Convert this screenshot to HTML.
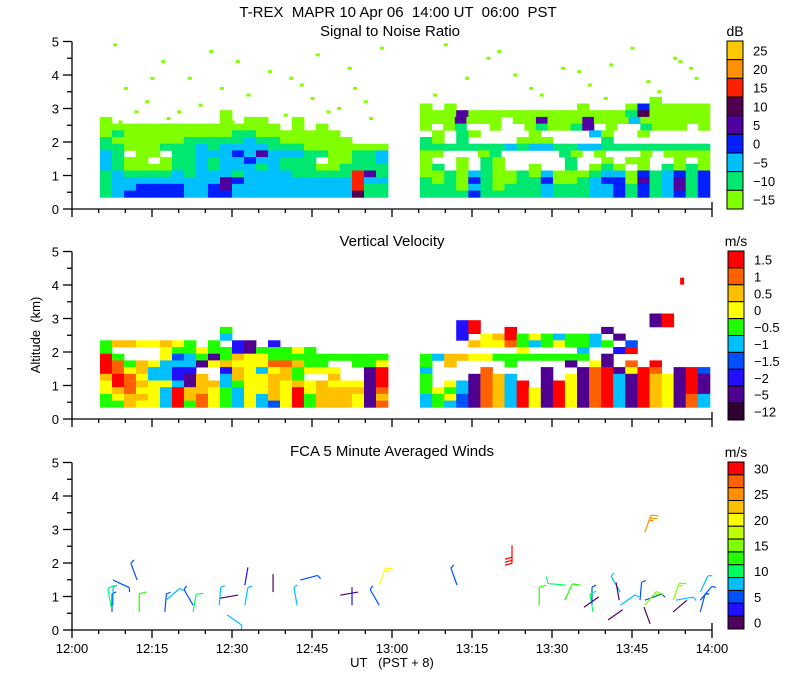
<!DOCTYPE html>
<html><head><meta charset="utf-8"><style>
html,body{margin:0;padding:0;background:#fff;}
svg{display:block;font-family:"Liberation Sans",sans-serif;}
text{white-space:pre;}
</style></head><body>
<svg id="chart" width="800" height="700" viewBox="0 0 800 700" xmlns="http://www.w3.org/2000/svg">
<text x="398" y="17" font-size="15" text-anchor="middle">T-REX  MAPR 10 Apr 06  14:00 UT  06:00  PST</text>
<text x="390" y="36" font-size="15" text-anchor="middle">Signal to Noise Ratio</text>
<text x="392" y="246" font-size="15" text-anchor="middle">Vertical Velocity</text>
<text x="392" y="456" font-size="15" text-anchor="middle">FCA 5 Minute Averaged Winds</text>
<text x="0" y="0" font-size="13" text-anchor="middle" transform="translate(40,335) rotate(-90)">Altitude  (km)</text>
<text x="392" y="667" font-size="13" text-anchor="middle">UT   (PST + 8)</text>
<g id="layer"></g>
</svg>
<script>
// ---- data ----
// SNR colours listed from lowest level (-15) to highest (25)
const snrColors = ["#80ff00","#00e870","#00c0ff","#0020ff","#5000a0","#500050","#ff2000","#ff9000","#ffc800"];
const snrLabels = ["25","20","15","10","5","0","\u22125","\u221210","\u221215"];
const vvColors = ["#300030","#500090","#2010ff","#0050ff","#00c0ff","#20ff00","#ffff00","#ffc000","#ff6000","#ff0000"];
const vvLabels = ["1.5","1","0.5","0","\u22120.5","\u22121","\u22121.5","\u22122","\u22125","\u221212"];
const windColors = ["#500060","#2010ff","#0050ff","#00c0ff","#00ff60","#20ff00","#80ff00","#c0ff00","#ffff00","#ffc000","#ff9000","#ff6000","#ff0000"];
const windLabels = ["30","","25","","20","","15","","10","","5","","0"];
const xTickLabels = ["12:00","12:15","12:30","12:45","13:00","13:15","13:30","13:45","14:00"];
const yTickLabels = ["0","1","2","3","4","5"];

// SNR grid: rows top (3.15 km) to bottom (0.35 km), 0.2 km each
const snrLeftT = [5.25, 59.25];
const snrLeft = [
"........................",
"........................",
"..........0.............",
"0.........0.00..0.......",
"000000000000000.0.0.....",
"01000000000110000000....",
"100000011111211000000...",
"110001112122221110000000",
"21.00.112223242221100112",
"2100.0112122322111.00112",
"210000112122212111001111",
"121111212221222211111641",
"122222222243222222222622",
"122333322342222222222611",
"123333322332222222222511"];
const snrRightT = [65.25, 119.6];
const snrRight = [
"...................0....",
"0.0..........0...0300000",
"000400000000000001500000",
"0004000.00400040002000000",
"0.01..0..010014.0..1000.0",
".0.10....0....20..0.....",
"10.1....000....1........",
"111111121221122111111111",
"00...01.....10.0...0.0000",
"0..0.10.....1..0.00..0.0",
"01.0.10..0..1.010.0.1010",
"001021001020001220312313",
"101031001130012330412413",
"111021011121112231312413",
"111131111121112231312313"];
const speckT = [8,10,14,17,20,22,26,30,33,37,40,43,46,50,53,56,58,12,24,35,45,52,9,18,28,48,15,31,41,55,70,74,78,83,88,92,97,101,105,110,114,117,68,80,95,108,113,116,86,100];
const speckAlt = [4.9,3.6,3.2,4.4,2.9,3.9,4.7,2.6,3.4,4.1,2.8,3.7,4.6,3.0,3.6,2.7,4.8,2.9,3.1,2.5,3.3,4.2,2.6,2.7,3.6,2.9,3.9,4.4,3.9,3.2,4.9,3.9,4.5,4.0,3.4,4.2,3.7,4.3,4.8,3.5,4.4,3.9,3.4,4.7,4.1,3.8,4.5,4.2,3.6,3.3];

// Vertical velocity grid: rows top (2.95 km) to bottom (0.35 km)
const vvLeftT = [5.25, 59.25];
const vvLeft = [
"........................",
"........................",
"..........5.............",
"..........4.............",
"57766765.5.21.2.........",
"5....6556552155565......",
"95...6345157665555555555",
"9857644416766688755..556",
"98674422..2764675666..19",
"798644217.4766775..7..19",
"698766417745667676766619",
"678664977654667696777718",
"567764978654647695777617",
"557664958654643695777618"];
const vvRightT = [65.25, 119.6];
const vvRight = [
"...................19...",
"...29..............19...",
"...29..9.......1........",
"...2.6795654554.1.......",
"....766854565545.3......",
"........6....4..29......",
"54776655555555.1........",
"5.7....5....1.61.8.9....",
"4....8....1..1891698.193",
"5...1874..1.618941976191",
"5.6418749.19618941976191",
"565418749619618941976191",
"456318749619618941976184",
"454318749619618941976184"];
const vvBlobT = [114.4];
const vvBlobAlt = [4.1];
const vvBlobVal = [9];

// Wind barbs
const windT   = [7.5,7.7,7.3,7.7,12.2,12.6,17.4,17.6,22.7,22.7,27.6,27.8,29.1,32.4,32.4,37.7,42.2,42.8,50.3,52.5,57.6,57.6,72.2,82.5,87.6,92.6,92.4,97.5,97.7,96,102.8,102.6,102.8,100.5,106.5,107.4,107.4,108.4,107.4,112.7,113.2,112.7,117.8,117.8,117.8];
const windAlt = [0.54,0.74,0.71,1.49,1.49,0.54,0.54,0.89,0.74,0.54,0.74,0.95,0.45,1.34,0.74,1.13,0.74,1.49,1.04,0.74,0.74,1.34,1.34,2.53,0.74,1.34,0.89,0.74,0.54,0.68,1.13,0.89,0.74,0.3,0.89,0.89,0.74,0.18,2.92,0.89,0.89,0.54,1.13,0.89,0.54];
const windSpd = [5,8,12,5,5,13,5,8,5,12,8,1,8,3,8,1,8,5,1,4,5,22,5,30,13,12,13,5,11,2,8,1,8,1,5,5,17,1,25,17,8,1,8,5,5];
const windDir = [0,0,350,115,340,0,5,50,330,10,5,80,125,10,10,0,350,75,80,0,330,20,340,180,0,275,25,0,350,55,330,350,55,55,5,70,40,340,20,20,80,50,25,40,15];

// ---- geometry ----
const X0=72, X1=712;
const panels=[{y0:209},{y0:419},{y0:630}];
const KM=33.5;
const xS = t => X0 + t*(X1-X0)/120;
const yS = (p,a) => panels[p].y0 - a*KM;
const NS="http://www.w3.org/2000/svg";
const layer=document.getElementById('layer');
function mk(tag, attrs, parent){const e=document.createElementNS(NS,tag);for(const k in attrs)e.setAttribute(k,attrs[k]);(parent||layer).appendChild(e);return e;}

function drawGrid(p, rows, tr, colors, name){
  const g=mk('g',{});
  
  
  const nr=rows.length;
  rows.forEach((row,ri)=>{
    const nc=row.length;
    const dt=(tr[1]-tr[0])/nc;
    const aLo=0.35+0.2*(nr-1-ri);
    for(let c=0;c<nc;c++){
      const ch=row[c]; if(ch==='.'||ch===' ')continue;
      const v=+ch;
      const x=xS(tr[0]+c*dt), x2=xS(tr[0]+(c+1)*dt);
      const y=yS(p,aLo+0.2), y2=yS(p,aLo);
      const r=mk('rect',{x:x.toFixed(1),y:y.toFixed(1),width:(x2-x+0.4).toFixed(1),height:(y2-y+0.4).toFixed(1),fill:colors[v]},g);
      
      
    }
  });
}
drawGrid(0,snrLeft,snrLeftT,snrColors,'snr-left-block');
drawGrid(0,snrRight,snrRightT,snrColors,'snr-right-block');
speckT.forEach((t,i)=>{
  const r=mk('rect',{x:xS(t)-1.5,y:yS(0,speckAlt[i])-1.5,width:4,height:3,fill:snrColors[0]});
  
  
});
drawGrid(1,vvLeft,vvLeftT,vvColors,'vv-left-block');
drawGrid(1,vvRight,vvRightT,vvColors,'vv-right-block');
vvBlobT.forEach((t,i)=>{
  const r=mk('rect',{x:xS(t)-2,y:yS(1,vvBlobAlt[i])-4,width:4,height:7,fill:vvColors[vvBlobVal[i]]});
  
  
});

// wind barbs
const L=18;
windT.forEach((t,i)=>{
  const sx=xS(t), sy=yS(2,windAlt[i]);
  const d=windDir[i]*Math.PI/180;
  const ux=Math.sin(d), uy=-Math.cos(d);
  const px=Math.cos(d), py=Math.sin(d);
  const ci=Math.min(12,Math.floor(windSpd[i]/2.5));
  const col=windColors[ci];
  const g=mk('g',{stroke:col,'stroke-width':1.2,fill:'none'});
  
  
  const ex=sx+ux*L, ey=sy+uy*L;
  mk('line',{x1:sx,y1:sy,x2:ex,y2:ey},g);
  let full=Math.floor(windSpd[i]/10), half=(windSpd[i]%10)>=5?1:0;
  let k=0;
  for(let f=0;f<full+half;f++){
    const len=f<full?7:4;
    const bx=ex-ux*3*k, by=ey-uy*3*k;
    mk('line',{x1:bx,y1:by,x2:bx+px*len+ux*2,y2:by+py*len+uy*2},g);
    k++;
  }
});

// axes
panels.forEach((pn,p)=>{
  const ag=mk('g',{stroke:'#000','stroke-width':1.3});
  
  
  mk('line',{x1:X0,y1:pn.y0,x2:X0,y2:pn.y0-5*KM},ag);
  mk('line',{x1:X0,y1:pn.y0,x2:X1,y2:pn.y0},ag);
  mk('line',{x1:X1,y1:pn.y0,x2:X1,y2:pn.y0-7},ag);
  for(let h=0;h<=10;h++){
    const y=yS(p,h/2);
    mk('line',{x1:X0-(h%2?5:9),y1:y,x2:X0,y2:y},ag);
  }
  yTickLabels.forEach((lb,j)=>{
    const t=mk('text',{x:X0-13,y:yS(p,j)+5,'font-size':13,'text-anchor':'end',stroke:'none',fill:'#000'});
    t.textContent=lb;
    
    
  });
  for(let m=0;m<=120;m+=5){
    const x=xS(m);
    mk('line',{x1:x,y1:pn.y0,x2:x,y2:pn.y0+(m%15===0?8:4)},ag);
  }
});
xTickLabels.forEach((lb,j)=>{
  const t=mk('text',{x:xS(j*15),y:653,'font-size':13,'text-anchor':'middle',fill:'#000'});
  t.textContent=lb;
  
  
});

// colorbars
function colorbar(x,yTop,yBot,cols,labels,unit,name){
  const g=mk('g',{});
  
  
  const n=cols.length, h=(yBot-yTop)/n;
  cols.forEach((c,i)=>{
    const r=mk('rect',{x:x,y:yTop+i*h,width:16,height:h,fill:c,stroke:'#000','stroke-width':1},g);
    
    
    if(labels[i]){
      const t=mk('text',{x:x+26,y:yTop+i*h+h/2+5,'font-size':13,fill:'#000'},g);
      t.textContent=labels[i];
      
      
    }
  });
  const u=mk('text',{x:x+8,y:yTop-5,'font-size':14,'text-anchor':'middle',fill:'#000'},g);
  u.textContent=unit;
  
  
}
colorbar(727,41,209,snrColors.slice().reverse(),snrLabels,'dB','snr-colorbar');
colorbar(728,251,420,vvColors.slice().reverse(),vvLabels,'m/s','vv-colorbar');
colorbar(728,462,629,windColors.slice().reverse(),windLabels,'m/s','wind-colorbar');
</script>
</body></html>
